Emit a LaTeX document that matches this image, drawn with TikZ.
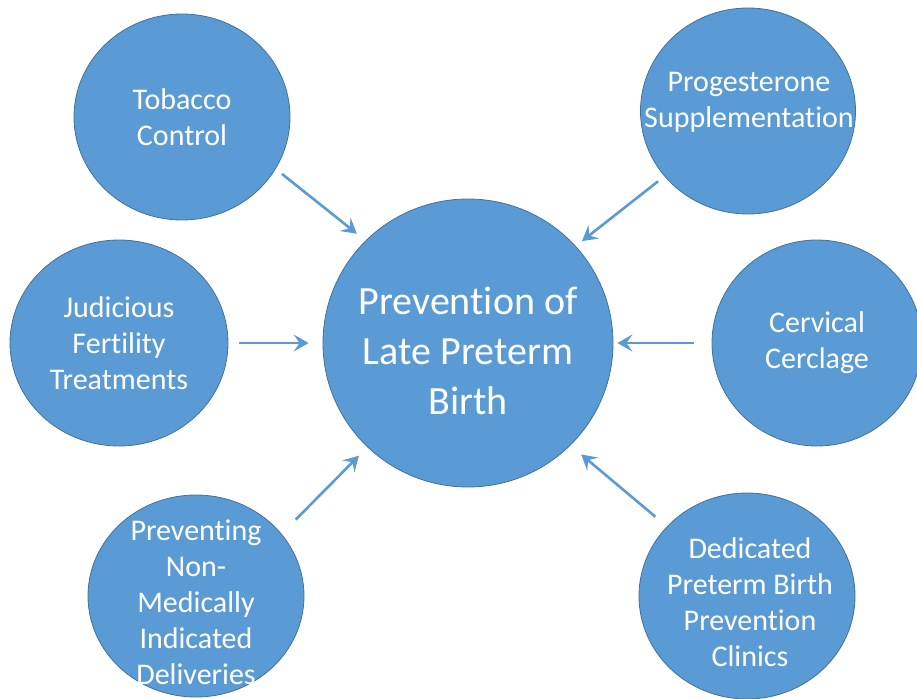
\documentclass[tikz,border=0pt]{standalone}
\usepackage{fontspec}
\setmainfont[Ligatures={NoCommon}]{Carlito}
\usetikzlibrary{shapes.geometric, arrows.meta}

\definecolor{bubble}{HTML}{5B9BD5}
\definecolor{bubbleline}{HTML}{41719C}

\tikzset{
  bubble/.style={ellipse, fill=bubble, draw=bubbleline, line width=0.8pt,
    text=white, align=center, inner sep=0pt,
    minimum width=216pt, minimum height=206pt,
    font=\fontsize{30}{36}\selectfont},
  arr/.style={draw=bubble, line width=2.6pt,
    -{Stealth[length=15pt, width=17pt, inset=6pt]}}
}

\begin{document}
\begin{tikzpicture}[x=1pt, y=-1pt]
  \useasboundingbox (0,0) rectangle (917,698);
  \clip (0,0) rectangle (917,698);

  % hub
  \node[bubble, minimum width=290pt, minimum height=288pt] (main) at (468,343) {};
  \node[text=white, align=center, font=\fontsize{40}{50}\selectfont]
    at (468,351) {Prevention of\\Late Preterm\\Birth};

  % measures around it
  \node[bubble] (tob)  at (182,117) {Tobacco\\Control};
  \node[bubble, minimum width=215pt] (prog) at (748,111) {};
  \node[text=white, align=center, font=\fontsize{30}{36}\selectfont]
    at (749,102) {Progesterone\\Supplementation};
  \node[bubble, minimum width=218pt] (fert) at (119,343) {Judicious\\Fertility\\Treatments};
  \node[bubble, minimum width=210pt] (cerv) at (817,343) {Cervical\\Cerclage};
  \node[bubble, minimum height=202pt] (nonmed) at (196,596) {};
  \node[text=white, align=center, font=\fontsize{30}{36}\selectfont]
    at (196,602) {Preventing\\Non-\\Medically\\Indicated\\Deliveries};
  \node[bubble] (clinic) at (747,596) {};
  \node[text=white, align=center, font=\fontsize{30}{36}\selectfont]
    at (750,602) {Dedicated\\Preterm Birth\\Prevention\\Clinics};

  % arrows into the hub
  \draw[arr, shorten <=8pt, shorten >=11pt] (tob.-29) -- (main.135);
  \draw[arr, shorten <=8pt, shorten >=8pt] (prog.-142) -- (main.42);
  \draw[arr, shorten <=11pt, shorten >=14pt] (fert.east) -- (main.west);
  \draw[arr, shorten <=18pt, shorten >=4pt] (cerv.west) -- (main.east);
  \draw[arr, shorten <=20pt, shorten >=12pt] (nonmed.36) -- (main.226);
  \draw[arr, shorten <=15pt, shorten >=14pt] (clinic.139) -- (main.-45);
\end{tikzpicture}
\end{document}
